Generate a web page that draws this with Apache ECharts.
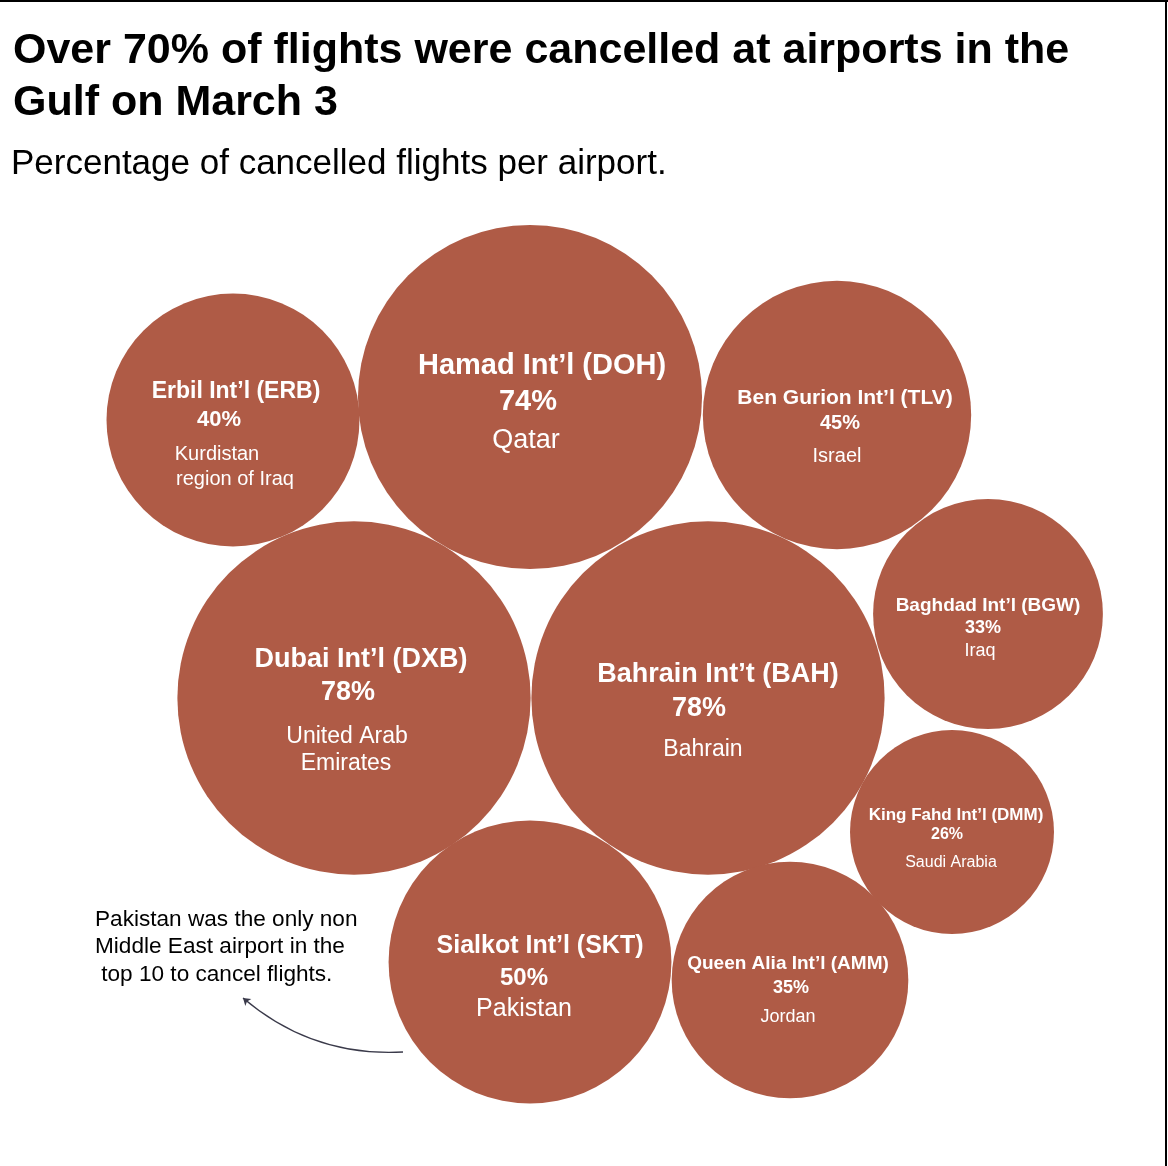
<!DOCTYPE html>
<html>
<head>
<meta charset="utf-8">
<script src="https://cdn.jsdelivr.net/npm/echarts@6/dist/echarts.min.js"></script>
<style>
  html, body { margin: 0; padding: 0; background: #fff; }
  #chart { width: 1168px; height: 1166px; }
</style>
</head>
<body>
<div id="chart"></div>
<script>
// Data
const airports = [
  'Hamad Int’l (DOH)', 'Erbil Int’l (ERB)', 'Ben Gurion Int’l (TLV)',
  'Dubai Int’l (DXB)', 'Bahrain Int’t (BAH)', 'Baghdad Int’l (BGW)',
  'King Fahd Int’l (DMM)', 'Sialkot Int’l (SKT)', 'Queen Alia Int’l (AMM)'
];
const cancelledPct = [74, 40, 45, 78, 78, 33, 26, 50, 35];
const countries = [
  'Qatar', 'Kurdistan\nregion of Iraq', 'Israel',
  'United Arab\nEmirates', 'Bahrain', 'Iraq',
  'Saudi Arabia', 'Pakistan', 'Jordan'
];
// bubble centres (packed layout, page pixels)
const centreX = [530, 233, 837, 354, 708, 988, 952, 530, 790];
const centreY = [397, 420, 415, 698, 698, 614, 832, 962, 980];

const FONT = '"Liberation Sans", Arial, sans-serif';
const BUBBLE = '#AF5B46';

// label look per bubble: font sizes [name, pct, country], line heights, vertical offset, x nudges
const labelStyles = [
  { sizes: [29, 29, 27], lh: [34, 38, 40], dy: 8, shift: [12, -2, -4] },
  { sizes: [23, 22, 20], lh: [28, 28, 40, 10], dy: 11, shift: [3, -14, -16, 2] },
  { sizes: [21, 20, 20], lh: [24, 26, 40], dy: 16, shift: [8, 3, 0] },
  { sizes: [27, 27, 23], lh: [30, 36, 52, 2], dy: 7, shift: [7, -6, -7, -8] },
  { sizes: [27, 27, 23], lh: [32, 36, 46], dy: 18, shift: [10, -9, -5] },
  { sizes: [19, 18, 18], lh: [22, 22, 24], dy: 15, shift: [0, -5, -8] },
  { sizes: [17, 16, 16], lh: [20, 20, 36], dy: 11, shift: [4, -5, -1] },
  { sizes: [25, 24, 25], lh: [32, 32, 30], dy: 15, shift: [10, -6, -6] },
  { sizes: [19, 18, 18], lh: [22, 26, 32], dy: 13, shift: [-2, 1, -2] }
];

const buildLabel = (i) => {
  const st = labelStyles[i];
  const lines = [airports[i], cancelledPct[i] + '%'].concat(countries[i].split('\n'));
  const rich = {};
  const parts = lines.map((txt, k) => {
    const s = st.shift[k] || 0;
    rich['l' + k] = {
      color: '#fff',
      fontFamily: FONT,
      fontSize: st.sizes[Math.min(k, 2)],
      fontWeight: k < 2 ? 'bold' : 'normal',
      lineHeight: st.lh[k],
      padding: [0, s < 0 ? -2 * s : 0, 0, s > 0 ? 2 * s : 0]
    };
    return '{l' + k + '|' + txt + '}';
  });
  return {
    show: true,
    position: 'inside',
    offset: [0, st.dy],
    formatter: parts.join('\n'),
    rich: rich
  };
};

const chart = echarts.init(document.getElementById('chart'));

const option = {
  animation: false,
  backgroundColor: '#fff',
  title: [
    {
      text: 'Over 70% of flights were cancelled at airports in the\nGulf on March 3',
      left: 13,
      top: 25,
      padding: 0,
      textStyle: { fontFamily: FONT, fontSize: 43, fontWeight: 'bold', lineHeight: 52, color: '#000' }
    },
    {
      text: 'Percentage of cancelled flights per airport.',
      left: 11,
      top: 144,
      padding: 0,
      textStyle: { fontFamily: FONT, fontSize: 35, fontWeight: 'normal', lineHeight: 40, color: '#000' }
    }
  ],
  grid: { left: 0, right: 0, top: 0, bottom: 0 },
  xAxis: { type: 'value', min: 0, max: 1168, show: false },
  yAxis: { type: 'value', min: 0, max: 1166, inverse: true, show: false },
  graphic: [
    { type: 'rect', shape: { x: 0, y: 0, width: 1168, height: 2 }, style: { fill: '#000' } },
    { type: 'rect', shape: { x: 1165, y: 0, width: 2, height: 1166 }, style: { fill: '#000' } },
    {
      type: 'text',
      left: 95,
      top: 906,
      style: {
        text: 'Pakistan was the only non\nMiddle East airport in the\n top 10 to cancel flights.',
        font: '22.6px ' + FONT,
        lineHeight: 27.5,
        fill: '#000'
      }
    }
  ],
  series: [
    {
      type: 'scatter',
      symbol: 'circle',
      symbolSize: (v) => 40 * Math.sqrt(v[2]),
      itemStyle: { color: BUBBLE, opacity: 1 },
      emphasis: { disabled: true },
      data: airports.map((name, i) => ({
        name: name,
        value: [centreX[i], centreY[i], cancelledPct[i]],
        label: buildLabel(i)
      }))
    },
    {
      // annotation arrow pointing from the Sialkot bubble to the note
      type: 'lines',
      coordinateSystem: 'cartesian2d',
      symbol: ['none', 'arrow'],
      symbolSize: 7,
      lineStyle: { color: '#3a3a4a', width: 1.3, curveness: 0.2, opacity: 1 },
      data: [{ coords: [[403, 1052], [243, 998]] }]
    }
  ]
};

chart.setOption(option);
</script>
</body>
</html>
